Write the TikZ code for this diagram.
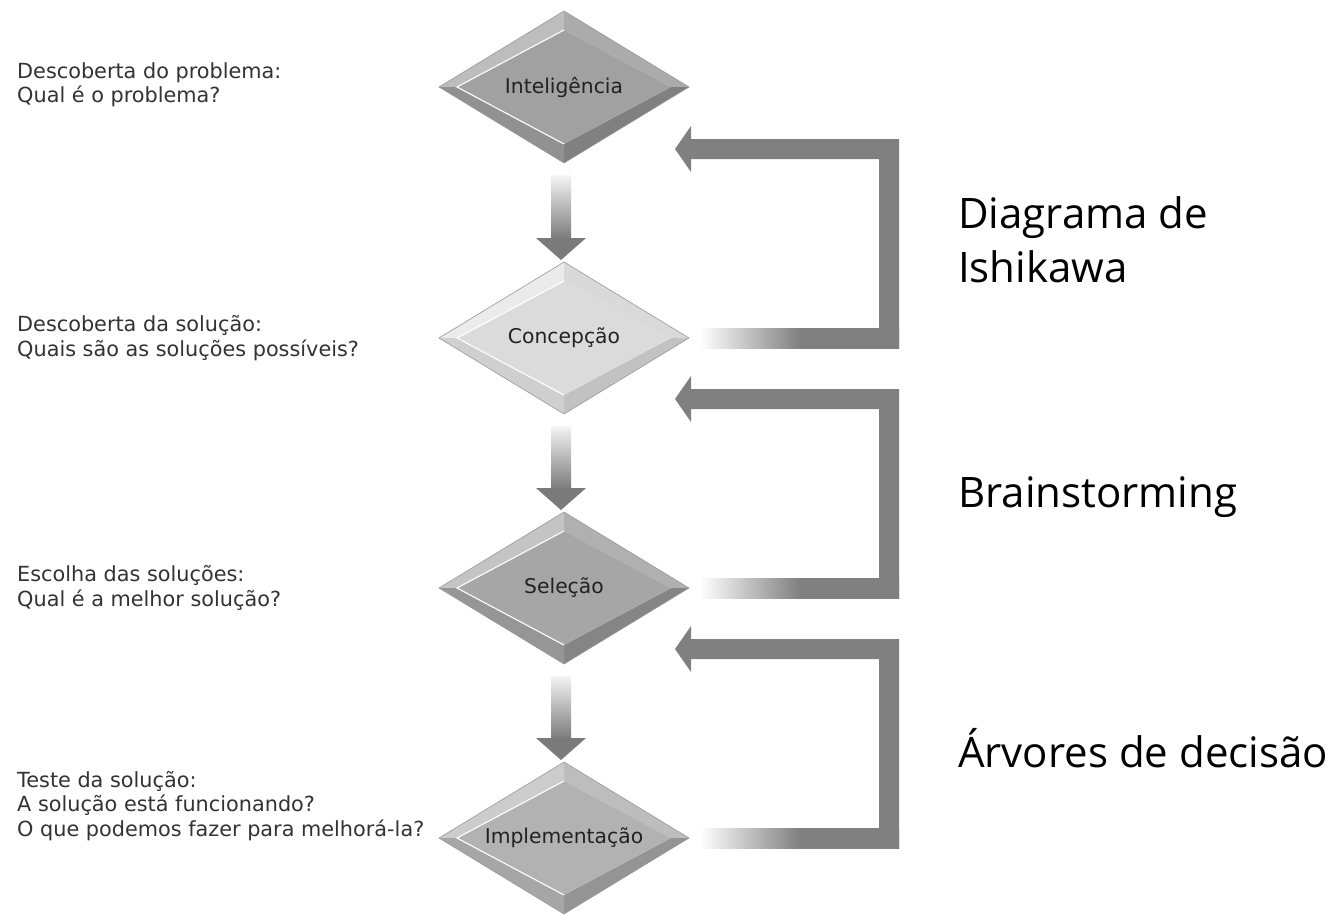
\documentclass[tikz,border=0pt]{standalone}
\usepackage{fontspec}
\setmainfont{DejaVu Sans}
\newfontfamily\toolfont{Open Sans}
\usetikzlibrary{calc}

\definecolor{notetext}{HTML}{333333}
\definecolor{gemtext}{HTML}{222222}
\definecolor{loopgray}{HTML}{808080}
\definecolor{flowgray}{HTML}{7A7A7A}

% horizontal fade used on the outgoing leg of each feedback loop
\pgfdeclarehorizontalshading{loopfade}{100bp}{color(0bp)=(white); color(25bp)=(white);
  color(50bp)=(loopgray); color(100bp)=(loopgray)}

% bevelled diamond: #1 centre, #2 face, #3 upper-left, #4 upper-right, #5 lower-right, #6 lower-left facet
\newcommand\bevelgem[6]{%
  \begin{scope}[shift={(#1)}]
    \fill[#3] (-125,0) -- (0,-76) -- (0,-57) -- (-107,0) -- cycle;
    \fill[#4] (0,-76) -- (125,0) -- (107,0) -- (0,-57) -- cycle;
    \fill[#5] (125,0) -- (0,76) -- (0,57) -- (107,0) -- cycle;
    \fill[#6] (0,76) -- (-125,0) -- (-107,0) -- (0,57) -- cycle;
    \fill[#2] (-107,0) -- (0,-57) -- (107,0) -- (0,57) -- cycle;
    \draw[white, line width=1.1pt] (0,57) -- (-107,0) -- (0,-57);
    \draw[black!40, line width=0.6pt, line join=miter] (-125,0) -- (0,-76) -- (125,0) -- (0,76) -- cycle;
  \end{scope}}

% downward flow arrow from the diamond centred at #1 to the one centred at #2
\newcommand\flowdown[2]{%
  \path ($(#1)+(-3,88)$) coordinate (fdtop) ($(#2)+(-3,-78)$) coordinate (fdtip);
  \shade[top color=white!96!black, bottom color=flowgray]
    ($(fdtop)+(-10,0)$) rectangle ($(fdtip)+(10,-21)$);
  \fill[flowgray] ($(fdtip)+(-25,-22)$) -- ($(fdtip)+(25,-22)$) -- (fdtip) -- cycle;}

% feedback loop leaving the right tip of the diamond centred at #1
\newcommand\feedback[1]{%
  \begin{scope}[shift={(#1)}]
    \shade[shading=loopfade] (136,-10) rectangle (335,10);
    \fill[loopgray] (126,-199) -- (335,-199) -- (335,10) -- (315,10)
      -- (315,-179) -- (126,-179) -- cycle;
    \fill[loopgray] (127,-212) -- (111,-189) -- (127,-166) -- cycle;
  \end{scope}}

\begin{document}
\begin{tikzpicture}[x=1pt, y=-1pt,
  sidenote/.style={anchor=west, align=left, inner sep=0pt, text=notetext,
    font=\fontsize{20.8}{24.5}\selectfont},
  gemlabel/.style={inner sep=0pt, text=gemtext, font=\fontsize{20.3}{24}\selectfont},
  toollabel/.style={anchor=west, align=left, inner sep=0pt, text=black,
    font=\toolfont\fontsize{42}{54}\selectfont}]
  \useasboundingbox[fill=white] (0,0) rectangle (1344,914);

  \coordinate (c1) at (564,87);
  \coordinate (c2) at (564,338);
  \coordinate (c3) at (564,588);
  \coordinate (c4) at (564,838);

  % feedback loops
  \feedback{c2}
  \feedback{c3}
  \feedback{c4}

  % flow arrows between the stages
  \flowdown{c1}{c2}
  \flowdown{c2}{c3}
  \flowdown{c3}{c4}

  % stages
  \bevelgem{c1}{black!37}{black!26}{black!33}{black!50}{black!43}
  \bevelgem{c2}{black!14}{black!8}{black!15}{black!24}{black!19}
  \bevelgem{c3}{black!35}{black!23}{black!31}{black!48}{black!41}
  \bevelgem{c4}{black!30}{black!20}{black!26}{black!42}{black!35}

  \node[gemlabel] (g1) at (c1) {Inteligência};
  \node[gemlabel] (g2) at (c2) {Concepção};
  \node[gemlabel] (g3) at (c3) {Seleção};
  \node[gemlabel] (g4) at (c4) {Implementação};

  % questions on the left
  \node[sidenote] (q1) at (17,85) {Descoberta do problema:\\Qual é o problema?};
  \node[sidenote] (q2) at (17,338) {Descoberta da solução:\\Quais são as soluções possíveis?};
  \node[sidenote] (q3) at (17,588) {Escolha das soluções:\\Qual é a melhor solução?};
  \node[sidenote] (q4) at (17,806) {Teste da solução:\\A solução está funcionando?\\O que podemos fazer para melhorá-la?};

  % tools on the right
  \node[toollabel] (t1) at (958,240) {Diagrama de\\Ishikawa};
  \node[toollabel] (t2) at (958,497) {Brainstorming};
  \node[toollabel] (t3) at (958,748) {Árvores de decisão};
\end{tikzpicture}
\end{document}
